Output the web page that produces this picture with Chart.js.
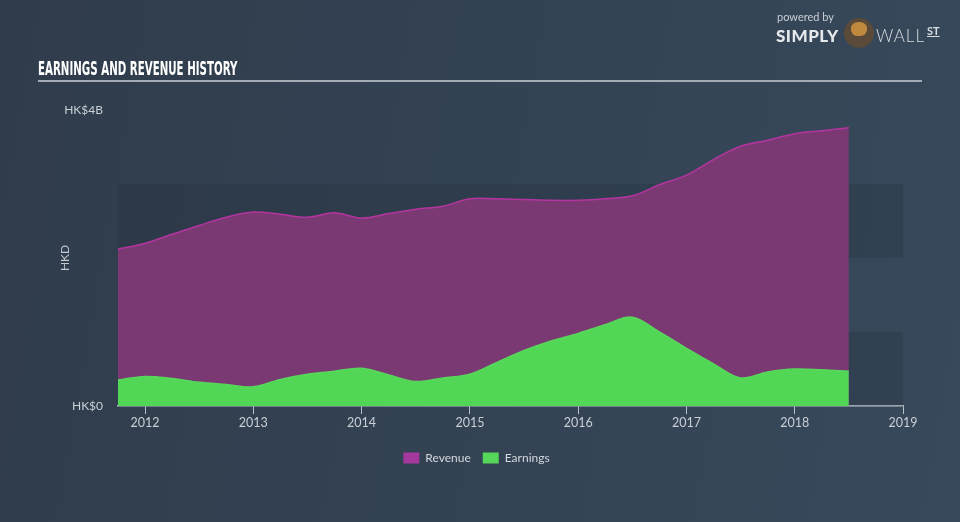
<!DOCTYPE html>
<html>
<head>
<meta charset="utf-8">
<script src="https://cdn.jsdelivr.net/npm/chart.js@4/dist/chart.umd.min.js"></script>
<style>
  html, body { margin: 0; padding: 0; }
  body {
    width: 960px; height: 522px; overflow: hidden; position: relative;
    background: linear-gradient(100deg, #303c4b 0%, #334253 45%, #37495b 100%);
    font-family: Lato, "Open Sans", sans-serif;
  }
  #wrap { position: absolute; left: 0; top: 0; width: 960px; height: 522px; }
  #title {
    position: absolute; left: 38px; top: 57px;
    font-family: "DejaVu Sans Condensed", "Liberation Sans Narrow", sans-serif;
    font-weight: bold; font-size: 19px; color: #ffffff;
    transform-origin: 0 0; transform: scaleX(0.6); white-space: nowrap;
  }
  #rule { position: absolute; left: 38px; top: 80px; width: 884px; height: 2px; background: #a3abb4; }
  #logo { position: absolute; left: 776px; top: 10px; color: #d9dde2; }
  #logo .pw { position: absolute; left: 1px; top: 0; font-size: 11px; white-space: nowrap; color: #c9ced4; }
  #logo .sm { position: absolute; left: 0; top: 15px; font-size: 17px; font-weight: 900; letter-spacing: 0.5px; color: #e6e9ec; }
  #logo .bull { position: absolute; left: 68px; top: 8px; width: 30px; height: 30px; border-radius: 50%; background: #5a4a3a; }
  #logo .bull i { position: absolute; left: 7px; top: 4px; width: 16px; height: 14px; border-radius: 45%; background: #c08a3e; }
  #logo .wl { position: absolute; left: 100px; top: 15px; font-size: 17px; font-weight: 300; letter-spacing: 1px; color: #d9dde2; }
  #logo .st { position: absolute; left: 151px; top: 14px; font-size: 11px; font-weight: bold; text-decoration: underline; color: #d9dde2; }
</style>
</head>
<body>
<div id="wrap"><canvas id="chart" width="960" height="522"></canvas></div>
<div id="title">EARNINGS AND REVENUE HISTORY</div>
<div id="rule"></div>
<div id="logo">
  <span class="pw">powered by</span>
  <span class="sm">SIMPLY</span>
  <span class="bull"><i></i></span>
  <span class="wl">WALL</span>
  <span class="st">ST</span>
</div>
<script>
// quarterly points, decimal years
var years = [2011.75, 2012, 2012.25, 2012.5, 2012.75, 2013, 2013.25, 2013.5, 2013.75,
  2014, 2014.25, 2014.5, 2014.75, 2015, 2015.25, 2015.5, 2015.75,
  2016, 2016.25, 2016.5, 2016.75, 2017, 2017.25, 2017.5, 2017.75,
  2018, 2018.25, 2018.5];
// HK$ billions
var revenue = [2.12, 2.20, 2.32, 2.44, 2.55, 2.62, 2.59, 2.55, 2.61,
  2.54, 2.60, 2.66, 2.70, 2.80, 2.80, 2.79, 2.78,
  2.78, 2.80, 2.84, 2.99, 3.12, 3.33, 3.51, 3.59,
  3.68, 3.72, 3.76];
var earnings = [0.35, 0.40, 0.37, 0.32, 0.29, 0.26, 0.36, 0.43, 0.47,
  0.51, 0.42, 0.33, 0.38, 0.43, 0.59, 0.75, 0.88,
  0.98, 1.10, 1.20, 1.00, 0.78, 0.57, 0.38, 0.46,
  0.50, 0.49, 0.47];
var xTicks = [2012, 2013, 2014, 2015, 2016, 2017, 2018, 2019];
var yTicks = [0, 1, 2, 3, 4];

function points(vals) {
  return years.map(function (y, i) { return { x: y, y: vals[i] }; });
}

// alternating darker bands inside the plot
var bands = {
  id: 'bands',
  beforeDatasetsDraw: function (chart) {
    var ctx = chart.ctx, a = chart.chartArea, ys = chart.scales.y;
    ctx.save();
    ctx.fillStyle = 'rgba(30,40,52,0.2)';
    [[0, 1], [2, 3]].forEach(function (b) {
      var top = ys.getPixelForValue(b[1]), bot = ys.getPixelForValue(b[0]);
      ctx.fillRect(a.left, top, a.right - a.left, bot - top);
    });
    ctx.restore();
  }
};

var legendColors = { Revenue: '#a5389c', Earnings: '#55d65a' };

new Chart(document.getElementById('chart'), {
  type: 'line',
  data: {
    datasets: [{
      label: 'Earnings',
      data: points(earnings),
      borderColor: '#58d85a',
      backgroundColor: '#52d656',
      borderWidth: 1.5,
      fill: 'origin',
      pointRadius: 0,
      tension: 0.35
    }, {
      label: 'Revenue',
      data: points(revenue),
      borderColor: '#b4359f',
      backgroundColor: '#7b3974',
      borderWidth: 1.5,
      fill: 'origin',
      pointRadius: 0,
      tension: 0.35
    }]
  },
  options: {
    responsive: false,
    animation: false,
    layout: { padding: { left: 50, right: 57, top: 110, bottom: 48 } },
    plugins: {
      tooltip: { enabled: false },
      legend: {
        position: 'bottom',
        labels: {
          color: '#d2d7dc',
          font: { family: 'Lato', size: 12 },
          boxWidth: 16,
          boxHeight: 11,
          padding: 12,
          sort: function (a, b) { return b.datasetIndex - a.datasetIndex; },
          generateLabels: function (chart) {
            var items = Chart.defaults.plugins.legend.labels.generateLabels(chart);
            items.forEach(function (it) {
              it.fillStyle = legendColors[it.text];
              it.strokeStyle = legendColors[it.text];
              it.lineWidth = 0;
            });
            return items;
          }
        }
      }
    },
    scales: {
      x: {
        type: 'linear',
        min: 2011.75,
        max: 2019,
        afterBuildTicks: function (s) { s.ticks = xTicks.map(function (v) { return { value: v }; }); },
        afterFit: function (s) { s.height = 34; },
        border: { display: true, color: '#b9c1ca', width: 1.5 },
        grid: { drawOnChartArea: false, drawTicks: true, tickLength: 8, color: '#b9c1ca' },
        ticks: {
          color: '#c9cfd5',
          font: { family: 'Lato', size: 12.5 },
          padding: 1,
          maxRotation: 0,
          callback: function (v) { return String(v); }
        }
      },
      y: {
        min: 0,
        max: 4,
        afterBuildTicks: function (s) { s.ticks = yTicks.map(function (v) { return { value: v }; }); },
        afterFit: function (s) { s.width = 68; },
        border: { display: false },
        grid: { display: false, drawTicks: false },
        title: { display: true, text: 'HKD', color: '#c3cad1', font: { family: 'Lato', size: 12 }, padding: { top: 8, bottom: 0 } },
        ticks: {
          color: '#c9cfd5',
          font: { family: 'Lato', size: 12 },
          padding: 15,
          callback: function (v) { return v === 4 ? 'HK$4B' : (v === 0 ? 'HK$0' : ''); }
        }
      }
    }
  },
  plugins: [bands]
});
</script>
</body>
</html>
